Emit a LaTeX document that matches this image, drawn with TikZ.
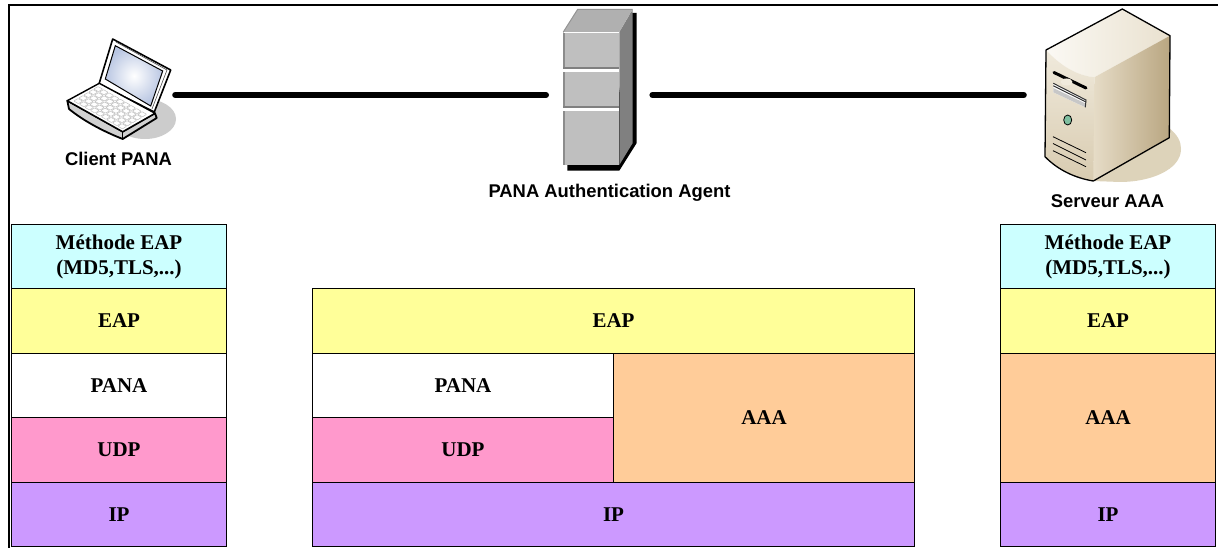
\documentclass[tikz,border=0pt]{standalone}
\usepackage{fontspec}
\setmainfont{Liberation Serif}
\newfontfamily\labelfont{Liberation Sans}
\definecolor{cMeth}{HTML}{CCFFFF}
\definecolor{cEap}{HTML}{FFFF99}
\definecolor{cUdp}{HTML}{FF99CC}
\definecolor{cIp}{HTML}{CC99FF}
\definecolor{cAaa}{HTML}{FFCC99}
\definecolor{sShadow}{HTML}{DDD3BA}
\definecolor{sTopA}{HTML}{FBF9F4}
\definecolor{sTopB}{HTML}{E9E1CF}
\definecolor{sFrontA}{HTML}{F0EADC}
\definecolor{sFrontB}{HTML}{D8CBB0}
\definecolor{sSideA}{HTML}{E6DCC7}
\definecolor{sSideB}{HTML}{B9A681}
\definecolor{sLed}{HTML}{7FBFA0}
\definecolor{lScreen}{HTML}{B9C6E2}
\tikzset{
  layerbox/.style={draw=black,line width=1pt,inner sep=0pt,align=center,minimum height=64.5pt,
    font=\fontsize{21}{25}\selectfont\bfseries},
  sidecol/.style={layerbox,minimum width=215pt},
  midcol/.style={layerbox,minimum width=602pt},
  halfcol/.style={layerbox,minimum width=301pt},
  iconlabel/.style={inner sep=0pt,font=\labelfont\fontsize{18.4}{20}\selectfont\bfseries},
  iconarea/.style={inner sep=0pt,minimum height=1pt},
  linkline/.style={line width=6pt,line cap=round,black},
  keycap/.style={fill=white,draw=black!25,line width=.5pt,rounded corners=.6pt}
}
\begin{document}
\begin{tikzpicture}[x=1pt,y=-1pt]
\useasboundingbox (0,0) rectangle (1218,548);
\fill[white] (0,0) rectangle (1218,548);
% frame
\draw[line width=2pt,black] (9,549)--(9,5)--(1219,5);

% ---------- laptop
\fill[black!20] (145,119) ellipse [x radius=31,y radius=20];
\draw[black,line width=1.6pt,fill=white,line join=round] (112.7,39)--(170.7,70)--(154.3,112)--(99,84)--cycle;
\draw[black!70,line width=.6pt] (116,42)--(167,70)--(152,109);
\draw[black,line width=1pt,inner color=white,outer color=lScreen] (115.3,45.7)--(162.7,71)--(150.7,106)--(105.3,79)--cycle;
\draw[black,line width=1.8pt,fill=black!18,line join=round] (67.3,100.7)--(69,109) .. controls (85,122) and (105,132) .. (122.7,139)--(156.7,118)--(155,113.3)--(122.7,131.7)--cycle;
\draw[black,line width=.8pt] (122.7,131.7)--(122.7,139);
\draw[black,line width=1.4pt,fill=white,line join=round] (67.3,100.7)--(99.3,83.3)--(155,113.3)--(122.7,131.7)--cycle;
\begin{scope}[shift={(73,101)},x={(5.5pt,-3.15pt)},y={(5pt,3pt)}]
\foreach \i in {0,...,8}{\foreach \j in {0,...,4}{
  \draw[keycap] (\i+.08,\j+.08)--(\i+.92,\j+.08)--(\i+.92,\j+.92)--(\i+.08,\j+.92)--cycle;
}}
\end{scope}
\node[iconarea,minimum width=110pt] (laptop) at (120,95) {};
\node[iconlabel] (clientlabel) at (118.5,159) {Client PANA};

% ---------- rack
\fill[black] (567.3,160)--(567.3,170.7)--(619.3,170.7)--(636.7,143)--(636.7,13)--(630,13)--(610,160)--cycle;
\fill[black!50] (619.3,32)--(632.7,9.3)--(632.7,143)--(619.3,165)--cycle;
\fill[black!31] (563.3,32)--(577.7,9.3)--(632.7,9.3)--(619.3,32)--cycle;
\draw[black!42,line width=1pt] (563.3,32)--(577.7,9.3)--(632.7,9.3);
\fill[black!25] (563.3,32) rectangle (619.3,165);
\draw[black!45,line width=1.5pt] (564,33)--(564,165);
\draw[white,line width=1pt] (564,32.5)--(619,32.5);
\fill[black!50] (563.3,67.5) rectangle (619.3,69.5);
\fill[white] (563.3,69.5) rectangle (619.3,72.5);
\fill[black!50] (563.3,106.5) rectangle (619.3,108.5);
\fill[white] (563.3,108.5) rectangle (619.3,111.5);
\node[iconarea,minimum width=106pt] (rack) at (599.2,95) {};
\node[iconlabel] (ragentlabel) at (609.5,192.5) {PANA Authentication Agent};

% ---------- server
\fill[sShadow] (1169,128) .. controls (1178,135) and (1181,142) .. (1181,149) .. controls (1181,170) and (1150,182) .. (1120,182) -- (1093,181)--cycle;
\path[left color=sTopA,right color=sTopB] (1046,50)--(1122.3,9)--(1170,35.7)--(1094.3,77.3) .. controls (1075,75) and (1060,65) .. (1046,50)--cycle;
\shade[left color=sSideA,right color=sSideB] (1094.3,77.3)--(1170,35.7)--(1169.3,137.7)--(1093.3,181)--cycle;
\shade[top color=sFrontA,bottom color=sFrontB] (1046,50) .. controls (1060,65) and (1075,75) .. (1094.3,77.3)--(1093.3,181) .. controls (1075,178) and (1058,170) .. (1045,156.7)--cycle;
\draw[black,line width=1.3pt,line join=round] (1046,50)--(1122.3,9)--(1170,35.7)--(1169.3,137.7)--(1093.3,181) .. controls (1075,178) and (1058,170) .. (1045,156.7)--cycle;
\draw[black,line width=3pt,line cap=round] (1054,72.5)--(1086,88);
\fill[sFrontA] (1066.5,82) ellipse [x radius=6,y radius=3.5];
\fill[white] (1053.3,83.3)--(1086,100)--(1085.3,107.3)--(1053.3,92.3)--cycle;
\fill[black!22] (1053.3,88)--(1085.5,103.5)--(1085.3,107.3)--(1053.3,92.3)--cycle;
\draw[black!80,line width=1pt] (1053.3,83.3)--(1086,100)--(1085.3,107.3);
\draw[black!80,line width=1pt] (1053.3,85.8)--(1086,102);
\draw[black,line width=.8pt,fill=sLed] (1067.7,120) ellipse [x radius=4,y radius=5];
\draw[black,line width=.8pt] (1053,136.7)--(1086,152.7) (1053,143.5)--(1086,160) (1053,150.7)--(1086,166.7);
\node[iconarea,minimum width=156pt] (server) at (1102,95) {};
\node[iconlabel] (serverlabel) at (1107.5,201.5) {Serveur AAA};

% ---------- connectors
\draw[linkline] (laptop.east)--(rack.west);
\draw[linkline] (rack.east)--(server.west);

% ---------- left stack
\node[sidecol,fill=cMeth] (lmeth) at (119,256.5) {Méthode EAP\\(MD5,TLS,...)};
\node[sidecol,fill=cEap] (leap) at (119,321) {EAP};
\node[sidecol,fill=white] (lpana) at (119,385.5) {PANA};
\node[sidecol,fill=cUdp] (ludp) at (119,450) {UDP};
\node[sidecol,fill=cIp] (lip) at (119,514.5) {IP};

% ---------- middle stack
\node[midcol,fill=cEap] (meap) at (613.5,321) {EAP};
\node[halfcol,fill=white] (mpana) at (463,385.5) {PANA};
\node[halfcol,fill=cUdp] (mudp) at (463,450) {UDP};
\node[halfcol,fill=cAaa,minimum height=129pt] (maaa) at (764,418) {AAA};
\node[midcol,fill=cIp] (mip) at (613.5,514.5) {IP};

% ---------- right stack
\node[sidecol,fill=cMeth] (rmeth) at (1108,256.5) {Méthode EAP\\(MD5,TLS,...)};
\node[sidecol,fill=cEap] (reap) at (1108,321) {EAP};
\node[sidecol,fill=cAaa,minimum height=129pt] (raaa) at (1108,418) {AAA};
\node[sidecol,fill=cIp] (rip) at (1108,514.5) {IP};
\end{tikzpicture}
\end{document}
